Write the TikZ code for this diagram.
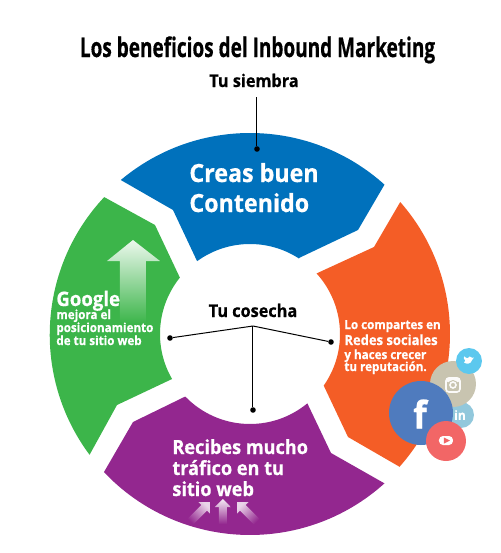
\documentclass[tikz,border=0pt]{standalone}
\usepackage{fontspec}
\setmainfont{Open Sans}[BoldFeatures={FakeStretch=0.93,FakeBold=0.6}]
\definecolor{cblue}{HTML}{0071BC}
\definecolor{cgreen}{HTML}{3CB54A}
\definecolor{corange}{HTML}{F45D26}
\definecolor{cpurple}{HTML}{93278F}
\definecolor{cfb}{HTML}{4F7BBE}
\definecolor{cig}{HTML}{C8C4B0}
\definecolor{ctw}{HTML}{5CC8EE}
\definecolor{cli}{HTML}{92C8DC}
\definecolor{cyt}{HTML}{F26666}
\newcommand{\pxf}[1]{\fontsize{\the\dimexpr#1pt/2\relax}{\the\dimexpr#1pt/2\relax}\selectfont}
\tikzset{
  txt/.style={anchor=base west,inner sep=0pt,font=\bfseries,text=white},
  blk/.style={anchor=base,inner sep=0pt,font=\bfseries,text=black},
  pin/.style={circle,fill=black,inner sep=0pt,minimum size=2.8pt},
  lead/.style={draw=black,line width=0.5pt},
  bubble/.style={circle,inner sep=0pt},
}
\begin{document}
\begin{tikzpicture}[x=0.5pt,y=0.5pt]
\useasboundingbox (-250,-219) rectangle (250,334);
% sectors
\fill[cblue] (130:201) arc[start angle=130,end angle=48,radius=201]
  -- (108,104) -- (49,76) -- (57:90) arc[start angle=57,end angle=126,radius=90]
  -- (-77,124) -- cycle;
\fill[cgreen] (136.8:200) arc[start angle=136.8,end angle=216.7,radius=201]
  -- (-133,-71) -- (210:90) arc[start angle=210,end angle=141.2,radius=90]
  -- (-95,109) -- cycle;
\fill[corange] (41.3:200) arc[start angle=41.3,end angle=-41.6,radius=200]
  -- (98,-103) -- (-35:90) arc[start angle=-35,end angle=42.3,radius=90]
  -- (124,87) -- cycle;
\fill[cpurple] (224:90) arc[start angle=224,end angle=309.6,radius=90]
  -- (81,-119) -- (-48:201) arc[start angle=-48,end angle=-136.6,radius=201]
  -- (-117,-88) -- cycle;
% big arrow
\shade[top color=white!90!cgreen,bottom color=cgreen]
  (-117,94) -- (-90,73) -- (-104,73) -- (-104,11) -- (-130,11) -- (-130,73) -- (-143,73) -- cycle;
% small arrows
\shade[top color=white!90!cpurple,bottom color=cpurple]
  (-27,-165) -- (-19,-173) -- (-23,-173) -- (-23,-190) -- (-31,-190) -- (-31,-173) -- (-35,-173) -- cycle;
\begin{scope}[shift={(-60,-188)},rotate=-45]
\shade[top color=white!80!cpurple,bottom color=cpurple,shading angle=-45]
  (0,28) -- (8,20) -- (4,20) -- (4,0) -- (-4,0) -- (-4,20) -- (-8,20) -- cycle;
\end{scope}
\begin{scope}[shift={(7,-188)},rotate=45]
\shade[top color=white!80!cpurple,bottom color=cpurple,shading angle=45]
  (0,28) -- (8,20) -- (4,20) -- (4,0) -- (-4,0) -- (-4,20) -- (-8,20) -- cycle;
\end{scope}
% titles
\node[blk] (title) at (7.5,277) {\pxf{27}\scalebox{0.757}[1]{Los beneficios del Inbound Marketing}};
\node[blk] (siembra) at (4,247) {\pxf{17.5}Tu siembra};
\node[blk] (cosecha) at (3,17) {\pxf{17.5}Tu cosecha};
% connectors
\node[pin] (pa) at (7,185) {};
\coordinate (ta) at (7,237);
\draw[lead] (ta) -- (pa);
\coordinate (hub) at (3,8);
\node[pin] (pl) at (-80,-4) {};
\node[pin] (pr) at (81,-8) {};
\node[pin] (pb) at (3,-76) {};
\draw[lead] (pl) -- (hub);
\draw[lead] (pr) -- (hub);
\draw[lead] (pb) -- (hub);
% sector texts
\node[txt] (c1) at (-61,152) {\pxf{25}Creas buen};
\node[txt] (c2) at (-61,122) {\pxf{25}Contenido};
\node[txt] (g1) at (-194,28) {\pxf{20}Google};
\node[txt] (g2) at (-194,15) {\pxf{12.5}mejora el};
\node[txt] (g3) at (-194,2) {\pxf{12.5}posicionamiento};
\node[txt] (g4) at (-194,-11) {\pxf{12.5}de tu sitio web};
\node[txt] (o1) at (94,5) {\pxf{12.5}Lo compartes en};
\node[txt] (o2) at (94,-11) {\pxf{14}Redes sociales};
\node[txt] (o3) at (94,-25) {\pxf{12.5}y haces crecer};
\node[txt] (o4) at (94,-37) {\pxf{12.5}tu reputación.};
\node[txt] (r1) at (-78,-120) {\pxf{19.5}Recibes mucho};
\node[txt] (r2) at (-78,-141) {\pxf{19.5}tráfico en tu};
\node[txt] (r3) at (-78,-162) {\pxf{19.5}sitio web};
% social bubbles
\node[bubble,fill=cli,minimum size=13pt] (li) at (211,-81) {};
\node[txt,anchor=center] (lit) at (210,-81) {\pxf{13}in};
\node[bubble,fill=cig,minimum size=23pt] (ig) at (203,-50) {};
\draw[white!92!cig,line width=0.8pt,rounded corners=1.5pt] (196,-58) rectangle (210,-44);
\fill[white!92!cig,rounded corners=1pt] (196,-48) rectangle (210,-43.5);
\fill[cig] (203,-51) circle (5);
\draw[white!92!cig,line width=0.8pt] (203,-51) circle (3);
\node[bubble,fill=ctw,minimum size=13pt] (tw) at (219,-27) {};
\begin{scope}[shift={(219,-26)},scale=0.62,shift={(-219,26)}]
\fill[white] (211,-30) .. controls (215,-33) and (222,-33) .. (224,-26)
  -- (227,-22) -- (224,-22.5) .. controls (222,-19) and (218,-20) .. (217,-23)
  .. controls (215,-23) and (213,-22) .. (211,-20) .. controls (210,-23) and (211,-25) .. (213,-27)
  .. controls (212,-28) and (211,-29) .. (211,-30) -- cycle;
\end{scope}
\node[bubble,fill=cfb,minimum size=32pt] (fb) at (171,-79) {};
\node[txt,anchor=center] (fbt) at (170,-80) {\pxf{38}f};
\node[bubble,fill=cyt,minimum size=20pt] (yt) at (196,-107) {};
\fill[white,rounded corners=2pt] (189,-111) rectangle (203,-102);
\fill[cyt] (194,-109.5) -- (200,-106.5) -- (194,-103.5) -- cycle;
\end{tikzpicture}
\end{document}
